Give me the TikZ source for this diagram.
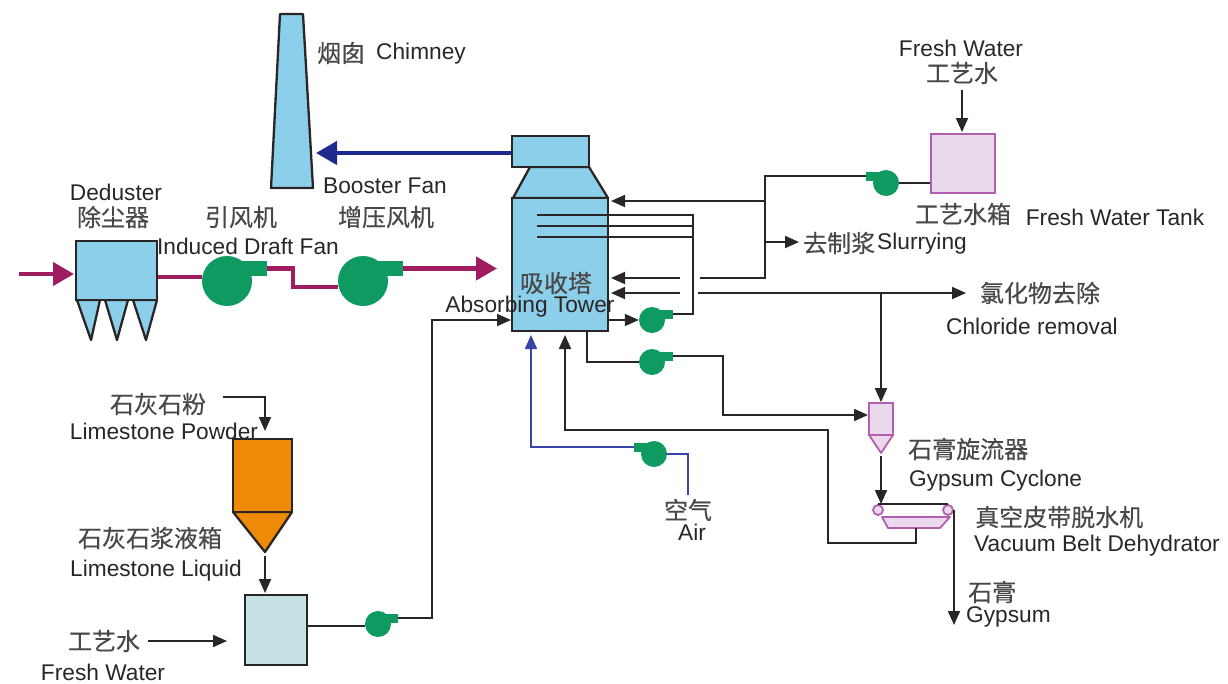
\documentclass[tikz,border=0pt]{standalone}
\usepackage{fontspec}
\setmainfont{Liberation Sans}
\newfontfamily\cjk[FakeBold=0.35]{Noto Sans CJK SC}
\usepackage{xcolor}
\definecolor{towerblue}{HTML}{8CCFEA}
\definecolor{fangreen}{HTML}{0F9A62}
\definecolor{siloorange}{HTML}{EE8A05}
\definecolor{slurryteal}{HTML}{C6E2E5}
\definecolor{gypsumpink}{HTML}{EAD8EC}
\definecolor{gypsumedge}{HTML}{B25FB0}
\definecolor{gasred}{HTML}{A01C60}
\definecolor{navyline}{HTML}{1E2A8E}
\definecolor{airblue}{HTML}{3A44A8}
\definecolor{pipegray}{HTML}{2A2626}
\usetikzlibrary{arrows.meta,positioning}
\tikzset{
  vessel/.style={
    rectangle, draw=pipegray, line width=2.3pt, fill=towerblue, inner sep=0pt
  },
  pinkvessel/.style={
    rectangle, draw=gypsumedge, line width=1.8pt, fill=gypsumpink, inner sep=0pt
  },
  hull/.style={draw=pipegray, line width=2.3pt, line join=round},
  pinkhull/.style={draw=gypsumedge, line width=1.8pt, fill=gypsumpink, line join=round},
  bigwheel/.style={circle, fill=fangreen, minimum size=50pt, inner sep=0pt},
  bigoutlet/.style={rectangle, fill=fangreen, minimum width=27pt, minimum height=15pt, inner sep=0pt},
  smallwheel/.style={circle, fill=fangreen, minimum size=26pt, inner sep=0pt},
  smalloutlet/.style={rectangle, fill=fangreen, minimum width=14pt, minimum height=9pt, inner sep=0pt},
  pipe/.style={draw=pipegray, line width=1.8pt, line join=miter},
  arrow/.style={pipe, -{Triangle[length=14pt,width=12pt]}},
  gasline/.style={draw=gasred, line width=4.5pt, line join=miter},
  gasarrow/.style={gasline, -{Triangle[length=21pt,width=23pt]}},
  fluearrow/.style={draw=navyline, line width=4.5pt, -{Triangle[length=21pt,width=23pt]}},
  airline/.style={draw=airblue, line width=1.8pt},
  airarrow/.style={airline, -{Triangle[length=14pt,width=12pt]}},
  entext/.style={font=\fontsize{22.7}{25}\selectfont, text=pipegray, inner sep=0pt},
  cntext/.style={font=\fontsize{24}{26}\selectfont\cjk, text=pipegray!85, inner sep=0pt}
}
\begin{document}
\begin{tikzpicture}[x=1pt,y=-1pt]
  \useasboundingbox (0,0) rectangle (1228,683);

  % Chimney
  \draw[hull, fill=towerblue] (280,14) -- (303,14) -- (313,188) -- (271,188) -- cycle;
  \coordinate (chimneyin) at (316,153);

  % Absorbing tower
  \draw[hull, fill=towerblue] (530,167) -- (589,167) -- (608,198) -- (513,198) -- cycle;
  \node[vessel, minimum width=96pt, minimum height=133pt] (tower) at (560,264.5) {};
  \node[vessel, minimum width=77pt, minimum height=31pt] (booster) at (550.5,151.5) {};

  % Deduster
  \draw[hull, fill=towerblue] (77,300) -- (91,340) -- (100,300) -- cycle;
  \draw[hull, fill=towerblue] (105,300) -- (117,340) -- (128,300) -- cycle;
  \draw[hull, fill=towerblue] (133,300) -- (146,340) -- (157,300) -- cycle;
  \node[vessel, minimum width=81pt, minimum height=59pt] (deduster) at (116.5,270.5) {};

  % Limestone silo and tanks
  \draw[hull, fill=siloorange] (233,512) -- (292,512) -- (265,552) -- cycle;
  \node[vessel, fill=siloorange, minimum width=59pt, minimum height=73pt] (silo) at (262.5,475.5) {};
  \node[vessel, fill=slurryteal, minimum width=62pt, minimum height=70pt] (slurrytank) at (276,630) {};
  \node[pinkvessel, minimum width=64pt, minimum height=59pt] (watertank) at (963,163.5) {};

  % Cyclone and belt
  \draw[pinkhull] (869,435) -- (893,435) -- (881,453) -- cycle;
  \node[pinkvessel, minimum width=24pt, minimum height=32pt] (cyclone) at (881,419) {};
  \draw[pinkhull] (882,517) -- (950,517) -- (940,528) -- (888,528) -- cycle;
  \node[pinkvessel, circle, minimum size=10pt] (rollerl) at (878,510) {};
  \node[pinkvessel, circle, minimum size=10pt] (rollerr) at (948,510) {};

  % Fans
  \node[bigwheel] (induced) at (227,281) {};
  \node[bigoutlet] (inducedout) at (253.5,268.5) {};
  \node[bigwheel] (boostfan) at (363,281) {};
  \node[bigoutlet] (boostout) at (389.5,268.5) {};
  \node[smallwheel] (pumpa) at (652,320) {};
  \node[smalloutlet] (pumpaout) at (666,314) {};
  \node[smallwheel] (pumpb) at (652,362) {};
  \node[smalloutlet] (pumpbout) at (666,356) {};
  \node[smallwheel] (pumpc) at (378,624) {};
  \node[smalloutlet] (pumpcout) at (391,618) {};
  \node[smallwheel] (pumpd) at (886,183) {};
  \node[smalloutlet] (pumpdout) at (873,176) {};
  \node[smallwheel] (airfan) at (654,454) {};
  \node[smalloutlet] (airfanout) at (641,447) {};

  % Junctions and free ends
  \coordinate (gasin) at (19,274);
  \coordinate (gasout) at (497,268.5);
  \coordinate (kink) at (293,287);
  \coordinate (sprayend) at (537,215);
  \coordinate (spraymid) at (537,226);
  \coordinate (spraylow) at (537,237);
  \coordinate (header) at (693,215);
  \coordinate (returna) at (680,278);
  \coordinate (returnb) at (680,293);
  \coordinate (tipa) at (611,278);
  \coordinate (tipb) at (611,293);
  \coordinate (tiptop) at (611,201);
  \coordinate (splitstart) at (700,278);
  \coordinate (split) at (765,278);
  \coordinate (splittop) at (765,176);
  \coordinate (splitarm) at (765,201);
  \coordinate (slurryarm) at (765,242);
  \coordinate (slurrytip) at (799,242);
  \coordinate (bleedstart) at (698,293);
  \coordinate (bleedtip) at (966,293);
  \coordinate (bleedarm) at (881,293);
  \coordinate (towerleave) at (587,359);
  \coordinate (feedbend) at (723,357);
  \coordinate (feedtip) at (868,415);
  \coordinate (cycloneout) at (881,456);
  \coordinate (beltin) at (881,504);
  \coordinate (beltdrain) at (916,528);
  \coordinate (drainlow) at (828,543);
  \coordinate (drainup) at (828,430);
  \coordinate (drainback) at (565,430);
  \coordinate (drainbend) at (916,543);
  \coordinate (draintip) at (565,335);
  \coordinate (airtip) at (531,335);
  \coordinate (airstart) at (688,495);
  \coordinate (gypsumtip) at (954,625);
  \coordinate (gypsumtop) at (954,510);
  \coordinate (waterin) at (962,90);
  \coordinate (waterout) at (962,132);
  \coordinate (powderin) at (223,397);
  \coordinate (powdertip) at (265,431);
  \coordinate (limein) at (265,556);
  \coordinate (limetip) at (265,593);
  \coordinate (freshin) at (148,641);
  \coordinate (freshtip) at (227,641);
  \coordinate (feedup) at (432,618);
  \coordinate (feedtower) at (511,320);

  % Flue gas
  \draw[gasarrow] (gasin) -- (74,274);
  \draw[gasline] (deduster.east |- 0,277) -- (induced.west |- 0,277);
  \draw[gasline] (inducedout.east) -| (kink) -- (boostfan.west |- kink);
  \draw[gasarrow] (boostout.east) -- (gasout);
  \draw[fluearrow] (booster.west |- chimneyin) -- (chimneyin);

  % Spray headers and circulation
  \draw[pipe] (sprayend) -- (header) |- (pumpaout.east);
  \draw[pipe] (spraymid) -- (header |- spraymid);
  \draw[pipe] (spraylow) -- (header |- spraylow);
  \draw[arrow] (tower.east |- pumpa) -- (pumpa.west);
  \draw[arrow] (returna) -- (tipa);
  \draw[arrow] (returnb) -- (tipb);
  \draw[pipe] (pumpd.east) -- (watertank.west |- pumpd);
  \draw[pipe] (pumpdout.west) -- (splittop) -- (split) -- (splitstart);
  \draw[arrow] (splitarm) -- (tiptop);
  \draw[arrow] (slurryarm) -- (slurrytip);
  \draw[arrow] (bleedstart) -- (bleedtip);
  \draw[arrow] (bleedarm) -- (cyclone.north);
  \draw[pipe] (tower.south -| towerleave) |- (pumpb.west);
  \draw[arrow] (pumpbout.east) -| (feedbend) |- (feedtip);
  \draw[arrow] (cycloneout) -- (beltin);
  \draw[pipe] (rollerl.north) -- (rollerr.north);
  \draw[arrow] (gypsumtop) -- (gypsumtip);
  \draw[arrow] (beltdrain) -- (drainbend) -- (drainlow) -- (drainup) -- (drainback) -- (draintip);

  % Air
  \draw[airarrow] (airfanout.west) -| (airtip);
  \draw[airline] (airfan.east) -| (airstart);

  % Limestone
  \draw[arrow] (powderin) -| (powdertip);
  \draw[arrow] (limein) -- (limetip);
  \draw[arrow] (freshin) -- (freshtip);
  \draw[pipe] (slurrytank.east |- 0,626) -- (pumpc.west |- 0,626);
  \draw[arrow] (pumpcout.east) -- (feedup) |- (feedtower);
  \draw[arrow] (waterin) -- (waterout);

  % Labels
  \node[cntext, anchor=west] (chimneycn) at (317,53) {烟囱};
  \node[entext, anchor=west] (chimneyen) at (376,54) {Chimney};
  \node[entext, anchor=west] (boosteren) at (323,186) {Booster Fan};
  \node[entext] (dedusteren) at (116,192) {Deduster};
  \node[cntext] (dedustercn) at (113,217) {除尘器};
  \node[cntext] (inducedcn) at (241,217) {引风机};
  \node[entext] (induceden) at (248,246) {Induced Draft Fan};
  \node[cntext] (boostcn) at (386,217) {增压风机};
  \node[cntext] (towercn) at (556,283) {吸收塔};
  \node[entext] (toweren) at (530,307) {Absorbing Tower};
  \node[entext] (wateren) at (961,48) {Fresh Water};
  \node[cntext] (watercn) at (962,73) {工艺水};
  \node[cntext] (tankcn) at (963,214) {工艺水箱};
  \node[entext] (tanken) at (1115,217) {Fresh Water Tank};
  \node[cntext, anchor=west] (slurrycn) at (803,243) {去制浆};
  \node[entext, anchor=west] (slurryen) at (877,244) {Slurrying};
  \node[cntext] (chloridecn) at (1040,293) {氯化物去除};
  \node[entext] (chlorideen) at (1032,326) {Chloride removal};
  \node[cntext, anchor=west] (cyclonecn) at (908,449) {石膏旋流器};
  \node[entext, anchor=west] (cycloneen) at (909,481) {Gypsum Cyclone};
  \node[cntext, anchor=west] (beltcn) at (975,517) {真空皮带脱水机};
  \node[entext, anchor=west] (belten) at (974,546) {Vacuum Belt Dehydrator};
  \node[cntext, anchor=west] (gypsumcn) at (968,592) {石膏};
  \node[entext, anchor=west] (gypsumen) at (966,617) {Gypsum};
  \node[cntext] (aircn) at (688,510) {空气};
  \node[entext] (airen) at (692,532) {Air};
  \node[cntext] (powdercn) at (158,404) {石灰石粉};
  \node[entext] (powderen) at (164,431) {Limestone Powder};
  \node[cntext] (limecn) at (150,538) {石灰石浆液箱};
  \node[entext] (limeen) at (156,571) {Limestone Liquid};
  \node[cntext] (freshcn) at (104,641) {工艺水};
  \node[entext] (freshen) at (103,672) {Fresh Water};

\end{tikzpicture}
\end{document}
